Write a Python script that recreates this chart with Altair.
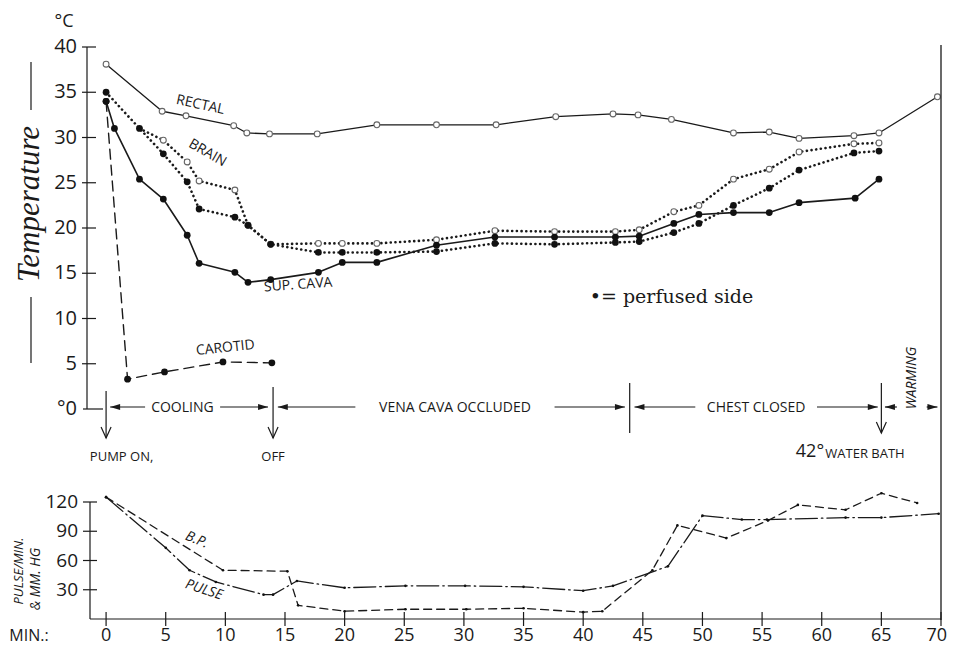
import altair as alt
import pandas as pd

# ---------------- data (minutes, °C / values) ----------------
rectal_t = [0, 4.7, 6.7, 10.7, 11.8, 13.7, 17.7, 22.7, 27.7, 32.7, 37.7, 42.5, 44.6, 47.4, 52.6, 55.6, 58.1, 62.7, 64.8, 69.7]
rectal_v = [38.1, 32.9, 32.4, 31.3, 30.5, 30.4, 30.4, 31.4, 31.4, 31.4, 32.3, 32.6, 32.5, 32.0, 30.5, 30.6, 29.9, 30.2, 30.5, 34.5]

brain_open_t = [2.8, 4.8, 6.8, 7.8, 10.8, 11.9, 13.8, 17.8, 19.8, 22.7, 27.7, 32.6, 37.6, 42.7, 44.7, 47.6, 49.7, 52.6, 55.6, 58.1, 62.7, 64.8]
brain_open_v = [31.0, 29.7, 27.3, 25.2, 24.2, 20.3, 18.2, 18.3, 18.3, 18.3, 18.7, 19.7, 19.6, 19.6, 19.8, 21.8, 22.5, 25.4, 26.5, 28.4, 29.3, 29.4]

brain_fill_t = [0, 2.8, 4.8, 6.8, 7.8, 10.8, 11.9, 13.8, 17.8, 19.8, 22.7, 27.7, 32.6, 37.6, 42.7, 44.7, 47.6, 49.7, 52.6, 55.6, 58.1, 62.7, 64.8]
brain_fill_v = [35.0, 31.0, 28.2, 25.1, 22.1, 21.2, 20.3, 18.2, 17.3, 17.3, 17.3, 17.4, 18.3, 18.2, 18.4, 18.5, 19.5, 20.5, 22.5, 24.4, 26.4, 28.3, 28.5]

cava_t = [0, 0.7, 2.8, 4.8, 6.8, 7.8, 10.8, 11.9, 13.8, 17.8, 19.8, 22.7, 27.7, 32.6, 37.6, 42.7, 44.7, 47.6, 49.7, 52.6, 55.6, 58.1, 62.8, 64.8]
cava_v = [34.0, 31.0, 25.4, 23.2, 19.2, 16.1, 15.1, 14.0, 14.3, 15.1, 16.2, 16.2, 18.1, 19.0, 19.0, 19.0, 19.1, 20.5, 21.5, 21.7, 21.7, 22.8, 23.3, 25.4]

carotid_t = [0, 1.8, 4.9, 9.8, 13.9]
carotid_v = [34.0, 3.3, 4.1, 5.2, 5.1]

pulse_t = [0, 5.0, 7.0, 9.2, 13.2, 14.0, 16.0, 20.0, 25.1, 30.1, 35.0, 40.0, 42.5, 47.1, 50.0, 53.3, 55.4, 62.0, 65.0, 69.8]
pulse_v = [125, 73, 50, 38, 25, 25, 39, 32, 34, 34, 33, 29, 34, 54, 106, 102, 102, 104, 104, 108]

bp_t = [0, 9.8, 15.2, 16.1, 20.0, 25.1, 30.2, 35.0, 40.0, 41.6, 45.8, 47.9, 52.0, 55.5, 58.0, 62.0, 65.0, 68.0]
bp_v = [125, 50, 49, 14, 8, 10, 10, 11, 7, 8, 50, 96, 83, 101, 117, 112, 129, 119]

temp_ticks = [0, 5, 10, 15, 20, 25, 30, 35, 40]
temp_tick_labels = ["°0", "5", "10", "15", "20", "25", "30", "35", "40"]
low_ticks = [30, 60, 90, 120]
low_tick_labels = ["30", "60", "90", "120"]
min_ticks = [0, 5, 10, 15, 20, 25, 30, 35, 40, 45, 50, 55, 60, 65, 70]
min_tick_labels = [str(m) for m in min_ticks]

# ---------------- scales ----------------
W, H = 854, 572
INK = "#1a1a1a"
SANS = "Open Sans"
xs = alt.Scale(domain=[-1.6, 70], nice=False, zero=False)
top_s = alt.Scale(domain=[0, 40], range=[362, 0], nice=False, zero=False)
bot_s = alt.Scale(domain=[0, 120], range=[572, 455], nice=False, zero=False)

X = lambda f="t": alt.X(f"{f}:Q", scale=xs, axis=None)


def series_line(t, v, scale, width, dash=None):
    kw = dict(strokeWidth=width, color=INK, strokeCap="round", strokeJoin="round")
    if dash is not None:
        kw["strokeDash"] = dash
    return alt.Chart(pd.DataFrame({"t": t, "v": v})).mark_line(**kw).encode(
        x=X(), y=alt.Y("v:Q", scale=scale, axis=None))


def series_points(t, v, scale, mark_kw, skip_first=False):
    df = pd.DataFrame({"t": t, "v": v})
    if skip_first:
        df = df.iloc[1:]
    return alt.Chart(df).mark_point(**mark_kw).encode(
        x=X(), y=alt.Y("v:Q", scale=scale, axis=None))


OPEN = dict(filled=True, fill="white", stroke="#666", strokeWidth=1.1, size=34, opacity=1, shape="circle")
FILL = dict(filled=True, color="#111", size=46, opacity=1, shape="circle")
TINY = dict(filled=True, color="#111", size=7, opacity=1, shape="circle")

DOT = [0.1, 4.6]

layers = []
# temperature curves
layers.append(series_line(rectal_t, rectal_v, top_s, 1.3))
layers.append(series_line(brain_open_t, brain_open_v, top_s, 2.6, DOT))
layers.append(series_line(brain_fill_t, brain_fill_v, top_s, 2.6, DOT))
layers.append(series_line(cava_t, cava_v, top_s, 1.6))
layers.append(series_line(carotid_t, carotid_v, top_s, 1.4, [10, 6]))
layers.append(series_points(rectal_t, rectal_v, top_s, OPEN))
layers.append(series_points(brain_open_t, brain_open_v, top_s, OPEN, skip_first=True))
layers.append(series_points(brain_fill_t, brain_fill_v, top_s, FILL))
layers.append(series_points(cava_t, cava_v, top_s, FILL))
layers.append(series_points(carotid_t, carotid_v, top_s, FILL))
# pulse / blood pressure
layers.append(series_line(pulse_t, pulse_v, bot_s, 1.3, [22, 4, 1.5, 4]))
layers.append(series_line(bp_t, bp_v, bot_s, 1.3, [8, 5]))
layers.append(series_points(pulse_t, pulse_v, bot_s, TINY))
layers.append(series_points(bp_t, bp_v, bot_s, TINY))

# ---------------- hand-drawn axes ----------------
def vrule_px(xpx, y1, y2, w=1.2):
    return alt.Chart(pd.DataFrame({"a": [0]})).mark_rule(strokeWidth=w, color=INK).encode(
        x=alt.value(xpx), y=alt.value(y1), y2=alt.value(y2))

# top y axis
layers.append(alt.Chart(pd.DataFrame({"a": [0], "b": [40]})).mark_rule(strokeWidth=1.2, color=INK).encode(
    x=alt.value(0), y=alt.Y("a:Q", scale=top_s, axis=None), y2="b:Q"))
tdf = pd.DataFrame({"v": temp_ticks, "lab": temp_tick_labels})
layers.append(alt.Chart(tdf[tdf.v > 0]).mark_rule(strokeWidth=1.2, color=INK).encode(
    y=alt.Y("v:Q", scale=top_s, axis=None), x=alt.value(-5), x2=alt.value(9)))
layers.append(alt.Chart(tdf[tdf.v == 0]).mark_rule(strokeWidth=1.2, color=INK).encode(
    y=alt.Y("v:Q", scale=top_s, axis=None), x=alt.value(-4), x2=alt.value(16)))
layers.append(alt.Chart(tdf).mark_text(align="right", baseline="middle", fontSize=20, font=SANS, color=INK).encode(
    y=alt.Y("v:Q", scale=top_s, axis=None), x=alt.value(-10), text="lab:N"))

# bottom y axis
layers.append(alt.Chart(pd.DataFrame({"a": [0], "b": [120]})).mark_rule(strokeWidth=1.2, color=INK).encode(
    x=alt.value(3), y=alt.Y("a:Q", scale=bot_s, axis=None), y2="b:Q"))
ldf = pd.DataFrame({"v": low_ticks, "lab": low_tick_labels})
layers.append(alt.Chart(ldf).mark_rule(strokeWidth=1.2, color=INK).encode(
    y=alt.Y("v:Q", scale=bot_s, axis=None), x=alt.value(-4), x2=alt.value(10)))
layers.append(alt.Chart(ldf).mark_text(align="right", baseline="middle", fontSize=19, font=SANS, color=INK).encode(
    y=alt.Y("v:Q", scale=bot_s, axis=None), x=alt.value(-9), text="lab:N"))

# bottom x axis
layers.append(alt.Chart(pd.DataFrame({"a": [0]})).mark_rule(strokeWidth=1.2, color=INK).encode(
    y=alt.Y("a:Q", scale=bot_s, axis=None), x=alt.value(3), x2=alt.value(854)))
mdf = pd.DataFrame({"t": min_ticks, "lab": min_tick_labels})
layers.append(alt.Chart(mdf).mark_rule(strokeWidth=1.2, color=INK).encode(
    x=X(), y=alt.value(565), y2=alt.value(579)))
layers.append(alt.Chart(mdf[mdf.t < 70]).mark_text(align="center", baseline="middle", fontSize=18, font=SANS, color=INK).encode(
    x=X(), y=alt.value(589), text="lab:N"))
layers.append(alt.Chart(mdf[mdf.t == 70]).mark_text(align="right", dx=6, baseline="middle", fontSize=18, font=SANS, color=INK).encode(
    x=X(), y=alt.value(589), text="lab:N"))

# right border line at 70 min
layers.append(alt.Chart(pd.DataFrame({"t": [70]})).mark_rule(strokeWidth=1.3, color=INK).encode(
    x=X(), y=alt.value(-2), y2=alt.value(573)))

# ---------------- phase annotations ----------------
ROW = 360
shafts = pd.DataFrame({
    "t1": [0.34, 9.56, 14.4, 37.6, 44.3, 59.6, 65.3, 68.8],
    "t2": [3.27, 13.58, 20.9, 43.5, 49.4, 64.7, 66.3, 69.7],
})
layers.append(alt.Chart(shafts).mark_rule(strokeWidth=1.2, color=INK).encode(
    x=X("t1"), x2="t2:Q", y=alt.value(ROW)))
heads_l = pd.DataFrame({"t": [0.34, 14.4, 44.3, 65.3]})
heads_r = pd.DataFrame({"t": [13.58, 43.5, 64.7, 69.7]})
layers.append(alt.Chart(heads_l).mark_point(shape="M0,0L10,-3L10,3Z", size=4, filled=True, color=INK, opacity=1).encode(
    x=X(), y=alt.value(ROW)))
layers.append(alt.Chart(heads_r).mark_point(shape="M0,0L-10,-3L-10,3Z", size=4, filled=True, color=INK, opacity=1).encode(
    x=X(), y=alt.value(ROW)))

marks_v = pd.DataFrame({"t": [0, 14.0, 43.9, 65.0], "y1": [344, 340, 336, 336], "y2": [391, 391, 386, 386]})
layers.append(alt.Chart(marks_v).mark_rule(strokeWidth=1.2, color=INK).encode(
    x=X(), y=alt.Y("y1:Q", scale=None), y2="y2:Q"))
down = pd.DataFrame({"t": [0, 14.0, 65.0], "y": [391, 391, 386]})
layers.append(alt.Chart(down).mark_point(shape="M-5,-11L0,0L5,-11", size=4, filled=False, stroke=INK, strokeWidth=1.2, opacity=1).encode(
    x=X(), y=alt.Y("y:Q", scale=None)))


def label(text, y, t=None, px=None, size=14, angle=0, font=SANS, style="normal", align="center", baseline="middle"):
    kw = dict(text=text, fontSize=size, font=font, fontStyle=style, align=align, baseline=baseline, color=INK)
    if angle:
        kw["angle"] = angle
    ch = alt.Chart(pd.DataFrame({"t": [t if t is not None else 0]})).mark_text(**kw)
    if px is not None:
        return ch.encode(x=alt.value(px), y=alt.value(y))
    return ch.encode(x=X(), y=alt.value(y))


layers += [
    label("COOLING", ROW + 1, t=6.4, size=14),
    label("VENA  CAVA  OCCLUDED", ROW + 1, t=29.25, size=14),
    label("CHEST  CLOSED", ROW + 1, t=54.5, size=14),
    label("WARMING", 331, t=67.6, size=14, angle=270, style="italic"),
    label("PUMP ON,", 410, t=1.3, size=13),
    label("OFF", 410, t=14.0, size=13),
    label("42°", 405, t=60.2, size=18, align="right"),
    label("WATER BATH", 407, t=60.3, size=13, align="left"),
    label("RECTAL", 58, t=7.9, size=14, angle=12),
    label("BRAIN", 106, t=8.5, size=14, angle=30),
    label("SUP. CAVA", 238, t=16.1, size=14, angle=356),
    label("CAROTID", 301, t=10.0, size=14, angle=354),
    label("•= perfused side", 250, t=47.4, size=19, font="DejaVu Serif"),
    label("B.P.", 493, t=7.6, size=14, angle=22, style="italic"),
    label("PULSE", 543, t=8.2, size=14, angle=18, style="italic"),
    label("°C", -25, px=-23, size=18),
    label("Temperature", 157, px=-57, size=31, angle=270, font="Liberation Serif", style="italic"),
    label("PULSE/MIN.", 524, px=-68, size=13, angle=270, style="italic"),
    label("& MM. HG", 532, px=-51, size=14, angle=270, style="italic"),
    label("MIN.:", 589, px=-58, size=16),
    vrule_px(-56, 15, 63),
    vrule_px(-56, 250, 316),
]

chart = alt.layer(*layers).resolve_scale(y="independent").properties(
    width=W, height=H,
    padding={"left": 79, "top": 39, "right": 6, "bottom": 30},
    autosize=alt.AutoSizeParams(type="none"),
    background="white",
).configure_view(stroke=None)

chart.save("out.html", embed_options={"renderer": "svg", "actions": False})
